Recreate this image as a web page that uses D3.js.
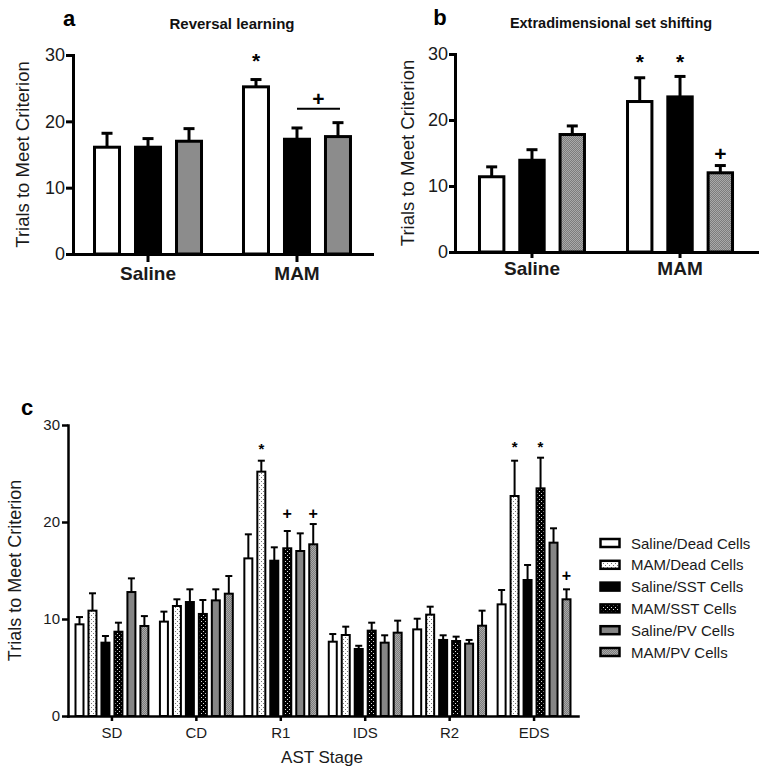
<!DOCTYPE html>
<html><head><meta charset="utf-8">
<script src="https://cdn.jsdelivr.net/npm/d3@7"></script>
<style>body{margin:0;background:#fff} svg{display:block}</style>
</head><body>
<svg id="chart" width="764" height="773"></svg>
<script>
// ---------------- data ----------------
const groupsAB = ["Saline", "MAM"];
const cellTypesAB = ["Dead Cells", "SST Cells", "PV Cells"];
const reversalMeans = [[16.1, 16.1, 17.0], [25.2, 17.3, 17.7]];
const reversalSem   = [[2.1, 1.3, 1.9], [1.1, 1.7, 2.1]];
const edsMeans = [[11.4, 13.9, 17.8], [22.8, 23.5, 12.0]];
const edsSem   = [[1.5, 1.6, 1.3], [3.6, 3.1, 1.1]];
const yTicksAB = [0, 10, 20, 30];

const stages = ["SD", "CD", "R1", "IDS", "R2", "EDS"];
const seriesC = ["Saline/Dead Cells", "MAM/Dead Cells", "Saline/SST Cells", "MAM/SST Cells", "Saline/PV Cells", "MAM/PV Cells"];
const meansC = [
  [9.45, 10.86, 7.56, 8.69, 12.78, 9.28],
  [9.73, 11.34, 11.75, 10.52, 11.92, 12.61],
  [16.25, 25.19, 16.01, 17.29, 17.01, 17.70],
  [7.66, 8.35, 6.91, 8.80, 7.56, 8.59],
  [8.93, 10.45, 7.84, 7.73, 7.46, 9.31],
  [11.51, 22.68, 14.02, 23.47, 17.87, 12.03]
];
const semC = [
  [0.75, 1.79, 0.69, 0.93, 1.41, 1.02],
  [1.03, 0.69, 1.31, 1.44, 1.14, 1.82],
  [2.48, 1.13, 1.38, 1.78, 1.82, 2.09],
  [0.79, 0.86, 0.33, 0.82, 0.76, 1.24],
  [1.10, 0.82, 0.48, 0.45, 0.38, 1.55],
  [1.48, 3.64, 1.55, 3.16, 1.48, 1.03]
];
const yTicksC = [0, 10, 20, 30];

// significance marks: [groupIndex, seriesIndex, symbol, yValue]
const reversalMarks = [[1, 0, "*", 29.1]];
const reversalBracket = [1, 1, 2, 21.9, 23.4]; // group, fromSeries, toSeries, lineValue, plusValue
const edsMarks = [[1, 0, "*", 28.8], [1, 1, "*", 28.8], [1, 2, "+", 15.0]];
const marksC = [[2, 1, "*", 27.6], [2, 3, "+", 20.9], [2, 5, "+", 20.9],
                [5, 1, "*", 27.8], [5, 3, "*", 27.8], [5, 5, "+", 14.5]];

// ---------------- styles ----------------
const FONT = "'Liberation Sans', Arial, Helvetica, sans-serif";
const fillsA = ["#ffffff", "#000000", "#8c8c8c"];
const fillsB = ["#ffffff", "#000000", "url(#stip)"];
const fillsC = ["#ffffff", "url(#dotW)", "#000000", "url(#dotB)", "#858585", "url(#stip)"];

const svg = d3.select("#chart");
svg.append("rect").attr("width", 764).attr("height", 773).attr("fill", "#fff");

// patterns
const defs = svg.append("defs");
const pW = defs.append("pattern").attr("id", "dotW").attr("patternUnits", "userSpaceOnUse").attr("width", 4).attr("height", 4);
pW.append("rect").attr("width", 4).attr("height", 4).attr("fill", "#fff");
pW.append("rect").attr("x", 1).attr("y", 1).attr("width", 1).attr("height", 1).attr("fill", "#777");
pW.append("rect").attr("x", 3).attr("y", 3).attr("width", 1).attr("height", 1).attr("fill", "#777");
const pB = defs.append("pattern").attr("id", "dotB").attr("patternUnits", "userSpaceOnUse").attr("width", 4).attr("height", 4);
pB.append("rect").attr("width", 4).attr("height", 4).attr("fill", "#000");
pB.append("rect").attr("x", 1).attr("y", 1).attr("width", 1).attr("height", 1).attr("fill", "#ddd");
pB.append("rect").attr("x", 3).attr("y", 3).attr("width", 1).attr("height", 1).attr("fill", "#ddd");
const pS = defs.append("pattern").attr("id", "stip").attr("patternUnits", "userSpaceOnUse").attr("width", 2).attr("height", 2);
pS.append("rect").attr("width", 2).attr("height", 2).attr("fill", "#7c7c7c");
pS.append("rect").attr("x", 0).attr("y", 0).attr("width", 1).attr("height", 1).attr("fill", "#a9a9a9");
pS.append("rect").attr("x", 1).attr("y", 1).attr("width", 1).attr("height", 1).attr("fill", "#a9a9a9");

// ---------------- generic grouped bar panel ----------------
function drawPanel(o) {
  const g = svg.append("g");
  const y = d3.scaleLinear().domain([0, 30]).range(o.yRange);
  const x0 = d3.scaleBand().domain(o.groups).range(o.xRange)
    .paddingInner(o.pi0).paddingOuter(o.po0);
  const bw = x0.bandwidth();
  const x1 = d3.scaleBand().domain(o.series)
    .range(o.innerSpan ? [(bw - o.innerSpan) / 2, (bw + o.innerSpan) / 2] : [0, bw])
    .paddingInner(o.pi1);
  const sw = o.barStroke;

  const data = [];
  o.groups.forEach((gr, gi) => o.series.forEach((s, si) => {
    data.push({ gr, s, si, v: o.means[gi][si], e: o.sem[gi][si] });
  }));

  // error bars (upper only)
  const eb = g.append("g");
  data.forEach(d => {
    const cx = x0(d.gr) + x1(d.s) + x1.bandwidth() / 2;
    eb.append("line").attr("x1", cx).attr("x2", cx)
      .attr("y1", y(d.v)).attr("y2", y(d.v + d.e))
      .attr("stroke", "#000").attr("stroke-width", o.errStroke);
    eb.append("line").attr("x1", cx - o.cap / 2).attr("x2", cx + o.cap / 2)
      .attr("y1", y(d.v + d.e)).attr("y2", y(d.v + d.e))
      .attr("stroke", "#000").attr("stroke-width", o.errStroke);
  });

  // bars
  g.append("g").selectAll("rect").data(data).join("rect")
    .attr("x", d => x0(d.gr) + x1(d.s) + sw / 2)
    .attr("width", x1.bandwidth() - sw)
    .attr("y", d => y(d.v))
    .attr("height", d => y(0) - y(d.v))
    .attr("fill", d => o.fills[d.si])
    .attr("stroke", "#000").attr("stroke-width", sw);

  // axes
  const ya = g.append("g").attr("transform", `translate(${o.xRange[0]},0)`)
    .call(d3.axisLeft(y).tickValues(o.yTicks).tickSize(o.yTickSize).tickPadding(o.yTickPad).tickSizeOuter(0));
  const xa = g.append("g").attr("transform", `translate(0,${o.yRange[0]})`)
    .call(d3.axisBottom(x0).tickSize(o.xTickSize).tickPadding(o.xTickPad).tickSizeOuter(0));
  [ya, xa].forEach(a => {
    a.select(".domain").attr("stroke", "#000").attr("stroke-width", o.axisStroke).attr("stroke-linecap", "square");
    a.selectAll(".tick line").attr("stroke", "#000").attr("stroke-width", o.axisStroke);
  });
  ya.selectAll("text").attr("font-family", FONT).attr("font-size", o.yFont).attr("fill", "#1a1a1a");
  xa.selectAll("text").attr("font-family", FONT).attr("font-size", o.xFont)
    .attr("font-weight", o.xBold ? "bold" : "normal").attr("fill", "#1a1a1a");

  // y label
  const ymid = (o.yRange[0] + o.yRange[1]) / 2;
  g.append("text").attr("transform", `translate(${o.yLabelX},${ymid}) rotate(-90)`)
    .attr("text-anchor", "middle").attr("dominant-baseline", "central")
    .attr("font-family", FONT).attr("font-size", o.yLabelFont).attr("fill", "#1a1a1a")
    .text("Trials to Meet Criterion");

  // marks
  (o.marks || []).forEach(m => {
    const gr = o.groups[m[0]], s = o.series[m[1]];
    const cx = x0(gr) + x1(s) + x1.bandwidth() / 2;
    g.append("text").attr("x", cx).attr("y", y(m[3]))
      .attr("text-anchor", "middle").attr("dominant-baseline", "central")
      .attr("font-family", FONT).attr("font-weight", "bold")
      .attr("font-size", m[2] === "*" ? o.starFont : o.plusFont)
      .attr("fill", "#000").text(m[2]);
  });
  return { g, x0, x1, y };
}

// ---------------- panel a ----------------
const pa = drawPanel({
  groups: groupsAB, series: cellTypesAB, means: reversalMeans, sem: reversalSem,
  fills: fillsA, yRange: [254, 55], xRange: [73, 372], pi0: 0, po0: 0.0035,
  innerSpan: 110, pi1: 0.317, barStroke: 3, errStroke: 3, cap: 11,
  yTicks: yTicksAB, yTickSize: 7, yTickPad: 1, xTickSize: 8, xTickPad: 5,
  axisStroke: 3, yFont: 18, xFont: 19, xBold: true, yLabelX: 22, yLabelFont: 18.5,
  marks: reversalMarks, starFont: 21, plusFont: 21
});
{
  const [gi, s1, s2, lv, pv] = reversalBracket;
  const gr = groupsAB[gi];
  const c1 = pa.x0(gr) + pa.x1(cellTypesAB[s1]) + pa.x1.bandwidth() / 2;
  const c2 = pa.x0(gr) + pa.x1(cellTypesAB[s2]) + pa.x1.bandwidth() / 2;
  pa.g.append("line").attr("x1", c1).attr("x2", c2 + 2).attr("y1", pa.y(lv)).attr("y2", pa.y(lv))
    .attr("stroke", "#000").attr("stroke-width", 2);
  pa.g.append("text").attr("x", (c1 + c2) / 2 + 1).attr("y", pa.y(pv))
    .attr("text-anchor", "middle").attr("dominant-baseline", "central")
    .attr("font-family", FONT).attr("font-weight", "bold").attr("font-size", 21).text("+");
}
svg.append("text").attr("x", 69).attr("y", 18).attr("text-anchor", "middle").attr("dominant-baseline", "central")
  .attr("font-family", FONT).attr("font-weight", "bold").attr("font-size", 22).text("a");
svg.append("text").attr("x", 232).attr("y", 23).attr("text-anchor", "middle").attr("dominant-baseline", "central")
  .attr("font-family", FONT).attr("font-weight", "bold").attr("font-size", 15).attr("fill", "#111").text("Reversal learning");

// ---------------- panel b ----------------
drawPanel({
  groups: groupsAB, series: cellTypesAB, means: edsMeans, sem: edsSem,
  fills: fillsB, yRange: [252, 54], xRange: [455, 757], pi0: 0, po0: 0.02,
  innerSpan: 108, pi1: 0.32, barStroke: 3, errStroke: 3, cap: 11,
  yTicks: yTicksAB, yTickSize: 6, yTickPad: 1, xTickSize: 6, xTickPad: 4,
  axisStroke: 3, yFont: 18, xFont: 19, xBold: true, yLabelX: 407, yLabelFont: 18.5,
  marks: edsMarks, starFont: 21, plusFont: 21
});
svg.append("text").attr("x", 440).attr("y", 17).attr("text-anchor", "middle").attr("dominant-baseline", "central")
  .attr("font-family", FONT).attr("font-weight", "bold").attr("font-size", 22).text("b");
svg.append("text").attr("x", 611).attr("y", 23).attr("text-anchor", "middle").attr("dominant-baseline", "central")
  .attr("font-family", FONT).attr("font-weight", "bold").attr("font-size", 14.5).attr("fill", "#111").text("Extradimensional set shifting");

// ---------------- panel c ----------------
drawPanel({
  groups: stages, series: seriesC, means: meansC, sem: semC,
  fills: fillsC, yRange: [716, 425], xRange: [68, 578], pi0: 0.113, po0: 0.077,
  innerSpan: null, pi1: 0.23, barStroke: 2, errStroke: 2, cap: 7,
  yTicks: yTicksC, yTickSize: 6, yTickPad: 2, xTickSize: 5, xTickPad: 6,
  axisStroke: 2.5, yFont: 15, xFont: 15, xBold: false, yLabelX: 15, yLabelFont: 18,
  marks: marksC, starFont: 15, plusFont: 16
});
svg.append("text").attr("x", 27).attr("y", 407).attr("text-anchor", "middle").attr("dominant-baseline", "central")
  .attr("font-family", FONT).attr("font-weight", "bold").attr("font-size", 22).text("c");
svg.append("text").attr("x", 322).attr("y", 757).attr("text-anchor", "middle").attr("dominant-baseline", "central")
  .attr("font-family", FONT).attr("font-size", 17).attr("fill", "#1a1a1a").text("AST Stage");

// legend
const legY = d3.scalePoint().domain(seriesC).range([543, 652]);
const leg = svg.append("g");
seriesC.forEach((s, i) => {
  leg.append("rect").attr("x", 600.5).attr("y", legY(s) - 4).attr("width", 19).attr("height", 8)
    .attr("fill", fillsC[i]).attr("stroke", "#000").attr("stroke-width", 2.5);
  leg.append("text").attr("x", 631).attr("y", legY(s)).attr("dominant-baseline", "central")
    .attr("font-family", FONT).attr("font-size", 15).attr("fill", "#1a1a1a").text(s);
});
</script>
</body></html>
